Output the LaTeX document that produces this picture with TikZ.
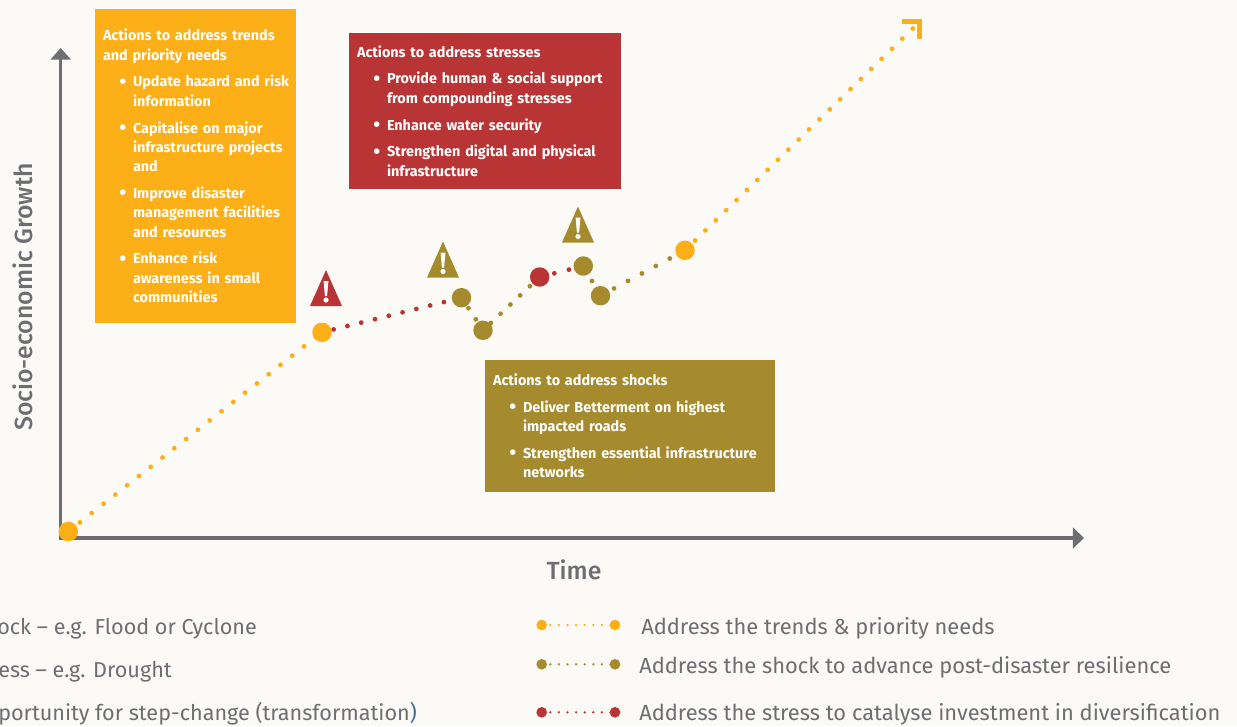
\documentclass[tikz,border=0pt]{standalone}
\usepackage{fontspec}
\setmainfont{Fira Sans}
\newfontfamily\medfont{Fira Sans Medium}
\usetikzlibrary{arrows.meta,backgrounds}
\definecolor{bgc}{HTML}{FBFAF6}
\definecolor{oran}{HTML}{FCAF17}
\definecolor{redc}{HTML}{B93535}
\definecolor{oliv}{HTML}{A68A2E}
\definecolor{gryc}{HTML}{6D6E71}
\definecolor{bluc}{HTML}{3F6E9C}
\newcommand{\hd}{\hspace*{0pt}}
\newcommand{\bl}{\hspace*{12.2pt}\makebox[10.3pt][l]{\raisebox{-0.9pt}[0pt][0pt]{\fontsize{15}{15}\selectfont •}}}
\newcommand{\ind}{\hspace*{22.5pt}}
\newcommand{\gap}{\\[5.6pt]}
\newcommand{\warnsign}[3]{%
  \fill[#3] (#1-16,#2+36) -- (#1,#2) -- (#1+16,#2+36) -- cycle;
  \fill[white] (#1-2.4,#2+11) -- (#1+2.4,#2+11) -- (#1+1.1,#2+26) -- (#1-1.1,#2+26) -- cycle;
  \fill[white] (#1,#2+30) circle[radius=2.6];
}
\tikzset{
  x=0.75pt,y=-0.75pt,
  bigdot/.style={circle,inner sep=0pt,minimum size=14.6pt,fill=#1},
  legdot/.style={circle,inner sep=0pt,minimum size=8pt,fill=#1},
  dotline/.style n args={3}{draw=#1,line width=3.6pt,line cap=round,dash pattern=on 0pt off #2,dash phase=#3},
  legline/.style={draw=#1,line width=1.9pt,line cap=round,dash pattern=on 0pt off 6.45pt},
  actbox/.style={fill=#1,text=white,align=left,inner xsep=6pt,inner ysep=0pt,
    font=\fontsize{10.8}{14.5}\selectfont\bfseries},
  axislbl/.style={text=gryc,font=\fontsize{18.6}{22}\selectfont\medfont},
  leglbl/.style={text=gryc,anchor=base west,inner sep=0pt,font=\fontsize{16.4}{20}\selectfont},
  leftlbl/.style={leglbl,font=\fontsize{16.2}{20}\selectfont},
}
\begin{document}
\begin{tikzpicture}
\useasboundingbox (0,0) rectangle (1237,726);
\clip (0,0) rectangle (1237,726);
\begin{scope}[on background layer]
\fill[bgc] (0,0) rectangle (1237,726);
\end{scope}

% axes
\coordinate (ytop) at (60.7,48);
\coordinate (orig) at (60.7,538);
\coordinate (xend) at (1084,538);
\draw[gryc,line width=2.4pt,miter limit=10,{Triangle[width=15pt,length=8.8pt]}-{Triangle[width=15.5pt,length=8.4pt]}] (ytop) -- (orig) -- (xend);

% path nodes
\node[bigdot=oran] (n0) at (68.3,531.5) {};
\node[bigdot=oran] (n1) at (322,332.3) {};
\node[bigdot=oliv] (n2) at (461.5,297.7) {};
\node[bigdot=oliv] (n3) at (483,330.3) {};
\node[bigdot=redc] (n4) at (539.7,277) {};
\node[bigdot=oliv] (n5) at (583.3,266) {};
\node[bigdot=oliv] (n6) at (600.5,295.7) {};
\node[bigdot=oran] (n7) at (685,250.3) {};
\coordinate (tip) at (915,26.3);

\begin{scope}[on background layer]
\draw[dotline={oran}{11.25pt}{0.15pt}] (n0.center) -- (n1.center);
\draw[dotline={redc}{10.65pt}{1.65pt}] (n1.center) -- (n2.center);
\draw[dotline={oliv}{10pt}{0.55pt}] (n2.center) -- (n3.center);
\draw[dotline={oliv}{10.05pt}{1.95pt}] (n3.center) -- (n4.center);
\draw[dotline={redc}{11.3pt}{0pt}] (n4.center) -- (n5.center);
\draw[dotline={oliv}{13pt}{0pt}] (n5.center) -- (n6.center);
\draw[dotline={oliv}{11.85pt}{0.3pt}] (n6.center) -- (n7.center);
\draw[dotline={oran}{10.85pt}{0.3pt}] (n7.center) -- (tip);
\end{scope}

% end arrow corner
\draw[oran,line width=4pt,miter limit=10] (902,21.5) -- (919.8,21.5) -- (919.8,38.5);

% warning signs
\warnsign{326}{270}{redc}
\warnsign{443}{241.5}{oliv}
\warnsign{578}{206.5}{oliv}

% action boxes
\node[actbox=oran,text width=138.75pt,minimum width=150.75pt,minimum height=235.5pt] (b1) at (195.5,166) {%
\hd Actions to address trends\\
and priority needs\gap
\mbox{\bl Update hazard and risk}\\
\ind information\gap
\bl Capitalise on major\\
\ind infrastructure projects\\
\ind and\gap
\bl Improve disaster\\
\ind management facilities\\
\ind and resources\gap
\bl Enhance risk\\
\ind awareness in small\\
\ind communities};
\node[actbox=redc,text width=192pt,minimum width=204pt,minimum height=117pt] (b2) at (485,111) {%
\hd Actions to address stresses\gap
\bl Provide human \& social support\\
\ind from compounding stresses\gap
\bl Enhance water security\gap
\bl Strengthen digital and physical\\
\ind infrastructure};
\node[actbox=oliv,text width=205.5pt,minimum width=217.5pt,minimum height=99pt] (b3) at (630,426) {%
\hd Actions to address shocks\gap
\bl Deliver Betterment on highest\\
\ind impacted roads\gap
\bl Strengthen essential infrastructure\\
\ind networks};

% axis labels
\node[axislbl,rotate=90] (ylab) at (23,297) {Socio-economic Growth};
\node[axislbl] (xlab) at (574,569.5) {Time};

% left legend
\node[leftlbl] (l1) at (-3,634.5) {ock – e.g. Flood or Cyclone};
\node[leftlbl] (l2) at (-2,677.5) {ess – e.g. Drought};
\node[leftlbl] (l3) at (-2,720.5) {portunity for step-change (transformation\textcolor{bluc}{)}};

% right legend
\node[legdot=oran] (a1) at (541.7,625) {};
\node[legdot=oran] (a2) at (615,625) {};
\node[legdot=oliv] (c1) at (541.7,664.3) {};
\node[legdot=oliv] (c2) at (615,664.3) {};
\node[legdot=redc] (d1) at (541.7,712.3) {};
\node[legdot=redc] (d2) at (615,712.3) {};
\begin{scope}[on background layer]
\draw[legline=oran] (a1.center) -- (a2.center);
\draw[legline=oliv] (c1.center) -- (c2.center);
\draw[legline=redc] (d1.center) -- (d2.center);
\end{scope}
\node[leglbl] (r1) at (641,634) {Address the trends \& priority needs};
\node[leglbl] (r2) at (639,673) {Address the shock to advance post-disaster resilience};
\node[leglbl] (r3) at (639,720.5) {Address the stress to catalyse investment in diversification};
\end{tikzpicture}
\end{document}
